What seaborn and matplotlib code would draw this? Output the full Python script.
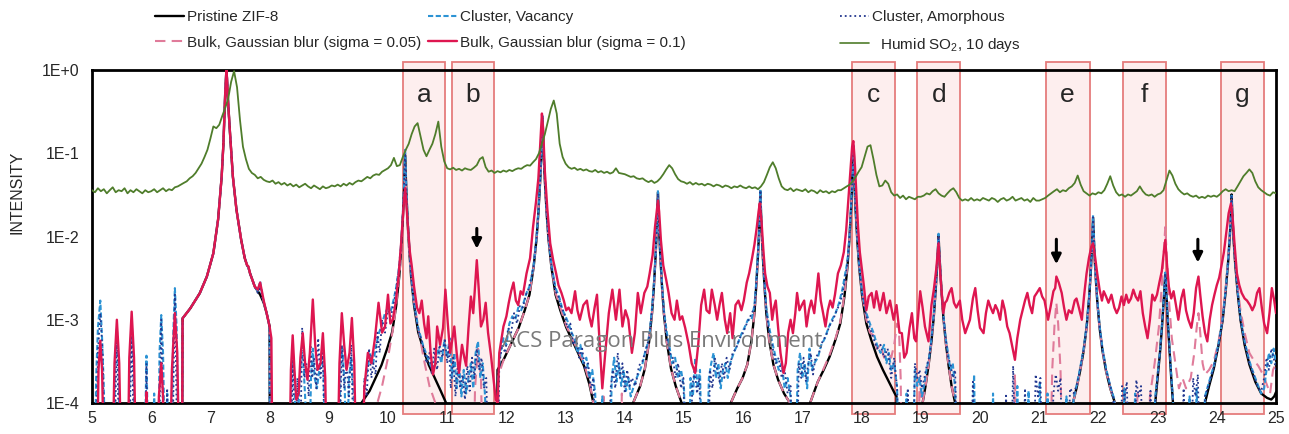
import numpy as np
import matplotlib
matplotlib.use("Agg")
import matplotlib.pyplot as plt
import seaborn as sns
from matplotlib.lines import Line2D
from matplotlib.patches import Rectangle
from matplotlib.ticker import MultipleLocator, LogLocator, NullFormatter, FixedLocator, FixedFormatter

sns.set_style("white")
plt.rcParams['font.family'] = ['Liberation Sans', 'DejaVu Sans']
plt.rcParams['mathtext.fontset'] = 'custom'
plt.rcParams['mathtext.rm'] = 'Liberation Sans'

# ---------------- data (2-theta, intensity) ----------------
pristine = [
(5.0,1e-5),(6.52,1e-5),
(6.53,1.04e-3),(6.66,1.37e-3),(6.82,2.08e-3),(6.94,3.3e-3),(7.05,6.3e-3),(7.13,1.6e-2),(7.19,5.2e-2),(7.22,0.13),(7.25,0.52),(7.27,1.0),(7.28,0.8),(7.30,0.4),(7.33,0.18),(7.38,0.052),(7.44,0.021),(7.52,9.1e-3),(7.58,5.5e-3),(7.62,4.5e-3),(7.64,4.3e-3),(7.67,3.6e-3),(7.75,2.5e-3),(7.84,2.0e-3),(7.90,1.6e-3),(7.95,1.2e-3),(8.00,8.3e-4),(8.005,1e-5),
(9.52,1e-5),(9.53,9.5e-5),(9.69,1.4e-4),(9.79,2.0e-4),(9.89,2.85e-4),(9.99,4.6e-4),(10.07,7.1e-4),(10.14,1.5e-3),(10.19,3.3e-3),(10.22,6.7e-3),(10.25,1.6e-2),(10.27,3.3e-2),(10.28,5.7e-2),(10.29,9.5e-2),(10.30,5.7e-2),(10.31,3.3e-2),(10.33,1.6e-2),(10.36,6.7e-3),(10.39,3.3e-3),(10.44,1.5e-3),(10.51,7.1e-4),(10.59,4.6e-4),(10.69,2.85e-4),(10.79,2.0e-4),(10.89,1.4e-4),(11.01,9e-5),(11.02,1e-5),
(11.84,1e-5),(11.85,2.5e-4),(11.96,3.4e-4),(12.11,5.7e-4),(12.21,8.1e-4),(12.31,1.3e-3),(12.39,2.0e-3),(12.46,4.3e-3),(12.51,9.5e-3),(12.54,1.9e-2),(12.57,4.6e-2),(12.59,9.5e-2),(12.60,0.16),(12.61,0.27),(12.62,0.16),(12.63,9.5e-2),(12.65,4.6e-2),(12.68,1.9e-2),(12.71,9.5e-3),(12.76,4.3e-3),(12.83,2.0e-3),(12.91,1.3e-3),(13.01,8.1e-4),(13.11,5.7e-4),(13.21,4.0e-4),(13.31,2.8e-4),(13.40,1.7e-4),(13.47,1.0e-4),(13.50,1e-5),
(14.13,1e-5),(14.14,1.0e-4),(14.26,1.6e-4),(14.34,2.6e-4),(14.41,5.4e-4),(14.46,1.2e-3),(14.49,2.4e-3),(14.52,5.8e-3),(14.54,1.2e-2),(14.55,2.0e-2),(14.56,3.4e-2),(14.57,2.0e-2),(14.58,1.2e-2),(14.60,5.8e-3),(14.63,2.4e-3),(14.66,1.2e-3),(14.71,5.4e-4),(14.78,2.6e-4),(14.86,1.6e-4),(14.96,1.0e-4),(15.00,1e-5),
(15.78,1e-5),(15.79,1.0e-4),(15.90,1.5e-4),(15.99,2.0e-4),(16.07,2.9e-4),(16.14,5.6e-4),(16.19,1.2e-3),(16.22,2.5e-3),(16.25,6e-3),(16.27,1.2e-2),(16.28,2.1e-2),(16.29,3.5e-2),(16.30,2.1e-2),(16.31,1.2e-2),(16.33,6e-3),(16.36,2.5e-3),(16.39,1.2e-3),(16.44,5.6e-4),(16.51,2.9e-4),(16.59,1.9e-4),(16.69,1.3e-4),(16.79,1.0e-4),(16.80,1e-5),
(17.12,1e-5),(17.13,1.0e-4),(17.26,1.8e-4),(17.36,2.5e-4),(17.46,3.6e-4),(17.56,5.8e-4),(17.64,9e-4),(17.71,1.9e-3),(17.76,4.2e-3),(17.79,8.4e-3),(17.82,2.0e-2),(17.84,4.2e-2),(17.85,7.2e-2),(17.86,0.12),(17.87,7.2e-2),(17.88,4.2e-2),(17.90,2.0e-2),(17.93,8.4e-3),(17.96,4.2e-3),(18.01,1.9e-3),(18.08,9e-4),(18.16,5.8e-4),(18.26,3.6e-4),(18.36,2.5e-4),(18.46,1.8e-4),(18.56,1.3e-4),(18.59,1.2e-4),(18.60,1e-5),
(19.02,1e-5),(19.03,1.0e-4),(19.08,1.6e-4),(19.13,2.8e-4),(19.18,5.5e-4),(19.22,1.1e-3),(19.25,2.2e-3),(19.27,3.8e-3),(19.29,7e-3),(19.30,1.05e-2),(19.31,7e-3),(19.33,3.8e-3),(19.35,2.2e-3),(19.38,1.1e-3),(19.42,5.5e-4),(19.47,2.8e-4),(19.52,1.6e-4),(19.58,1.0e-4),(19.59,1e-5),
(21.56,1e-5),(21.57,1.0e-4),(21.63,1.5e-4),(21.69,2.4e-4),(21.75,4.2e-4),(21.80,8e-4),(21.84,1.7e-3),(21.87,3.6e-3),(21.89,7e-3),(21.90,1.1e-2),(21.91,1.7e-2),(21.92,1.1e-2),(21.93,7e-3),(21.95,3.6e-3),(21.98,1.7e-3),(22.02,8e-4),(22.07,4.2e-4),(22.13,2.4e-4),(22.20,1.5e-4),(22.28,1.0e-4),(22.29,1e-5),
(22.95,1e-5),(22.96,1.0e-4),(23.00,2.0e-4),(23.04,4e-4),(23.07,7.5e-4),(23.09,1.2e-3),(23.11,2.0e-3),(23.12,2.7e-3),(23.13,3.6e-3),(23.14,2.7e-3),(23.15,2.0e-3),(23.17,1.0e-3),(23.20,4.5e-4),(23.23,2.0e-4),(23.26,1.0e-4),(23.27,1e-5),
(23.79,1e-5),(23.80,1.0e-4),(23.87,1.6e-4),(23.95,2.6e-4),(24.03,5e-4),(24.10,1.0e-3),(24.15,2.2e-3),(24.19,4.8e-3),(24.22,1.0e-2),(24.24,2.0e-2),(24.25,3.2e-2),(24.26,2.0e-2),(24.28,1.0e-2),(24.31,4.8e-3),(24.35,2.2e-3),(24.40,1.0e-3),(24.47,5e-4),(24.55,2.9e-4),(24.65,1.8e-4),(24.75,1.3e-4),(24.85,1.15e-4),(24.92,1.1e-4),(24.97,1.2e-4),(25.0,1.35e-4)]

vacancy = [
(5.0,1e-5),(5.04,1e-5),(5.07,2e-4),(5.10,8e-4),(5.14,1.7e-3),(5.17,6e-4),(5.20,1.5e-4),(5.23,1e-5),
(5.36,1e-5),(5.39,2.5e-4),(5.42,8e-4),(5.45,2.5e-4),(5.48,1e-5),
(5.61,1e-5),(5.64,3e-4),(5.67,1.0e-3),(5.70,3e-4),(5.73,1e-5),
(5.88,1e-5),(5.92,3.7e-4),(5.96,1e-5),(6.02,1e-5),(6.05,1.3e-4),(6.08,1e-5),
(6.12,1e-5),(6.14,4e-4),(6.17,1.14e-3),(6.20,4e-4),(6.24,1e-5),(6.27,1.3e-4),(6.30,1e-5),
(6.34,1e-5),(6.37,6e-4),(6.40,2.4e-3),(6.43,8e-4),(6.47,1e-5),
(6.52,1e-5),(6.53,1.04e-3),(6.66,1.37e-3),(6.82,2.08e-3),(6.94,3.3e-3),(7.05,6.3e-3),(7.13,1.6e-2),(7.19,5.2e-2),(7.22,0.13),(7.25,0.52),(7.27,1.0),(7.28,0.8),(7.30,0.4),(7.33,0.18),(7.38,0.052),(7.44,0.021),(7.52,9.1e-3),(7.58,5.5e-3),(7.62,4.5e-3),(7.64,4.3e-3),(7.67,3.6e-3),(7.75,2.5e-3),(7.80,2.2e-3),(7.84,2.9e-3),(7.88,1.9e-3),(7.95,1.2e-3),(8.00,8.3e-4),(8.005,1e-5),
(8.34,1e-5),(8.37,2e-4),(8.39,4.5e-4),(8.42,2e-4),(8.45,1e-5),(8.50,1.5e-4),(8.54,4e-4),(8.57,3e-4),(8.60,1.2e-4),(8.66,1e-5),(8.70,2e-4),(8.73,4.5e-4),(8.76,2e-4),(8.80,1.5e-4),(8.84,2.5e-4),(8.88,3.5e-4),(8.91,2.5e-4),(8.95,1e-5),
(9.16,1e-5),(9.20,3e-4),(9.23,4.5e-4),(9.27,1.5e-4),(9.30,1e-5),(9.34,2e-4),(9.38,3.5e-4),(9.42,1.2e-4),(9.45,1e-5),
(9.55,1e-5),(9.60,1.5e-4),(9.65,2.5e-4),(9.70,4e-4),(9.75,3e-4),(9.80,5e-4),(9.85,7e-4),(9.90,9e-4),(9.95,1.2e-3),(10.0,1.4e-3),(10.05,1.3e-3),(10.10,1.8e-3),(10.14,2.5e-3),(10.19,4.5e-3),(10.22,8e-3),(10.25,1.9e-2),(10.27,4e-2),(10.28,7e-2),(10.29,0.11),(10.30,6.5e-2),(10.31,3.8e-2),(10.33,1.8e-2),(10.36,7.5e-3),(10.39,3.6e-3),(10.44,1.6e-3),(10.51,8e-4),(10.59,5e-4),(10.69,3.2e-4),(10.75,2.5e-4),(10.80,3.5e-4),(10.85,4.5e-4),(10.90,3e-4),(10.95,5.5e-4),(11.0,3.5e-4),(11.04,6e-4),(11.08,2e-4),(11.12,4e-4),(11.16,1.5e-4),(11.20,3e-4),(11.24,1.2e-4),(11.28,2.5e-4),(11.32,1.3e-4),(11.36,2e-4),(11.40,3e-4),(11.44,1.5e-4),(11.48,4e-4),(11.52,5.5e-4),(11.56,2e-4),(11.60,3e-4),(11.64,1.2e-4),(11.68,1e-5),
(11.84,1e-5),(11.86,2e-4),(11.90,4e-4),(11.95,6e-4),(12.0,5e-4),(12.05,9e-4),(12.10,1.1e-3),(12.15,1.0e-3),(12.20,1.4e-3),(12.25,1.3e-3),(12.30,1.7e-3),(12.35,2.2e-3),(12.40,2.6e-3),(12.46,4.5e-3),(12.51,1e-2),(12.54,2e-2),(12.57,5e-2),(12.59,0.1),(12.60,0.17),(12.61,0.28),(12.62,0.17),(12.63,0.1),(12.65,5e-2),(12.68,2e-2),(12.71,1e-2),(12.76,4.6e-3),(12.83,2.4e-3),(12.90,1.8e-3),(12.95,1.3e-3),(13.0,1.1e-3),(13.05,9e-4),(13.10,7e-4),(13.15,6e-4),(13.20,4e-4),(13.25,5e-4),(13.30,3e-4),(13.35,3.5e-4),(13.40,2e-4),(13.45,2.5e-4),(13.50,1.3e-4),(13.54,1e-5),
(13.58,1e-5),(13.62,1.2e-4),(13.66,1e-5),(13.74,1e-5),(13.78,2e-4),(13.82,3.5e-4),(13.86,1.8e-4),(13.90,3e-4),(13.94,1.6e-4),(13.98,2.5e-4),(14.02,1.4e-4),(14.06,2e-4),(14.10,1.2e-4),(14.14,1.5e-4),(14.20,2e-4),(14.26,2.5e-4),(14.30,3e-4),(14.34,4e-4),(14.38,5e-4),(14.42,7e-4),(14.46,1.4e-3),(14.49,2.6e-3),(14.52,6.2e-3),(14.54,1.3e-2),(14.55,2.2e-2),(14.56,3.6e-2),(14.57,2.2e-2),(14.58,1.3e-2),(14.60,6.2e-3),(14.63,2.6e-3),(14.66,1.3e-3),(14.71,7e-4),(14.76,4.5e-4),(14.80,3e-4),(14.85,3.5e-4),(14.90,2e-4),(14.95,2.5e-4),(15.0,1.5e-4),(15.04,1e-5),
(15.08,1e-5),(15.11,2e-4),(15.15,1.2e-4),(15.19,3.5e-4),(15.23,1.5e-4),(15.27,2.5e-4),(15.31,1e-5),(15.38,1e-5),(15.42,2e-4),(15.46,3e-4),(15.50,4e-4),(15.54,2e-4),(15.58,3e-4),(15.62,1.5e-4),(15.66,2.5e-4),(15.70,3e-4),(15.74,2e-4),(15.78,3e-4),(15.84,4e-4),(15.90,5e-4),(15.96,6.5e-4),(16.02,8e-4),(16.08,1.0e-3),(16.14,1.0e-3),(16.19,1.5e-3),(16.22,2.8e-3),(16.25,6.5e-3),(16.27,1.3e-2),(16.28,2.2e-2),(16.29,3.7e-2),(16.30,2.2e-2),(16.31,1.3e-2),(16.33,6.5e-3),(16.36,2.8e-3),(16.39,1.4e-3),(16.44,8e-4),(16.50,5e-4),(16.55,3.5e-4),(16.60,2.5e-4),(16.65,3e-4),(16.70,1.5e-4),(16.75,2e-4),(16.80,1.2e-4),(16.84,1e-5),
(16.88,1e-5),(16.92,2.5e-4),(16.96,4e-4),(17.0,2e-4),(17.04,3e-4),(17.08,1.5e-4),(17.12,4.5e-4),(17.16,2.5e-4),(17.20,3e-4),(17.26,3.5e-4),(17.32,5e-4),(17.38,6e-4),(17.44,8e-4),(17.50,1.0e-3),(17.56,1.2e-3),(17.62,1.6e-3),(17.68,2.4e-3),(17.72,3.5e-3),(17.76,5e-3),(17.79,9e-3),(17.82,2.2e-2),(17.84,4.5e-2),(17.85,7.5e-2),(17.86,0.125),(17.87,7.5e-2),(17.88,4.5e-2),(17.90,2.2e-2),(17.93,9e-3),(17.96,4.5e-3),(18.01,2.1e-3),(18.08,1.2e-3),(18.14,9e-4),(18.20,7e-4),(18.26,5e-4),(18.32,4e-4),(18.38,5e-4),(18.42,3e-4),(18.46,4e-4),(18.50,2.5e-4),(18.55,3e-4),(18.60,1.5e-4),(18.63,1e-5),
(18.72,1e-5),(18.76,1.3e-4),(18.80,1e-5),(18.86,1e-5),(18.90,2.5e-4),(18.94,1.6e-4),(18.98,2e-4),(19.02,1.2e-4),(19.06,1.7e-4),(19.10,2.6e-4),(19.14,3.5e-4),(19.18,6e-4),(19.22,1.2e-3),(19.25,2.3e-3),(19.27,4e-3),(19.29,7.5e-3),(19.30,1.08e-2),(19.31,7.5e-3),(19.33,4e-3),(19.35,2.3e-3),(19.38,1.2e-3),(19.42,6e-4),(19.46,4e-4),(19.50,2.5e-4),(19.54,3e-4),(19.58,1.5e-4),(19.62,1e-5),
(19.86,1e-5),(19.90,2.2e-4),(19.93,1e-5),(20.20,1e-5),(20.22,1.3e-4),(20.25,1e-5),(20.60,1e-5),(20.63,1.6e-4),(20.66,1e-5),(20.78,1e-5),(20.82,1.4e-4),(20.86,1e-5),(20.98,1e-5),(21.01,1.8e-4),(21.04,1e-5),(21.10,1e-5),(21.14,1.3e-4),(21.18,1e-5),(21.42,1e-5),(21.46,1.2e-4),(21.50,1e-5),
(21.56,1e-5),(21.58,1.1e-4),(21.63,1.6e-4),(21.69,2.6e-4),(21.75,4.5e-4),(21.80,8.5e-4),(21.84,1.8e-3),(21.87,3.8e-3),(21.89,7.5e-3),(21.90,1.2e-2),(21.91,1.8e-2),(21.92,1.2e-2),(21.93,7.5e-3),(21.95,3.8e-3),(21.98,1.8e-3),(22.02,8.5e-4),(22.07,4.5e-4),(22.13,2.6e-4),(22.20,1.6e-4),(22.27,1.1e-4),(22.30,1e-5),
(22.40,1e-5),(22.44,1.5e-4),(22.48,1e-5),(22.58,1e-5),(22.62,1.3e-4),(22.66,1e-5),
(22.90,1e-5),(22.96,1.2e-4),(23.00,2.2e-4),(23.04,4.2e-4),(23.07,8e-4),(23.09,1.3e-3),(23.11,2.1e-3),(23.13,3.7e-3),(23.15,2.1e-3),(23.17,1.1e-3),(23.20,5e-4),(23.23,2.2e-4),(23.26,1.1e-4),(23.30,1e-5),
(23.50,1e-5),(23.54,1.2e-4),(23.58,1e-5),(23.62,1e-5),(23.66,1.5e-4),(23.70,1e-5),
(23.76,1e-5),(23.80,1.2e-4),(23.87,1.8e-4),(23.95,2.8e-4),(24.03,5.2e-4),(24.10,1.05e-3),(24.15,2.3e-3),(24.19,5e-3),(24.22,1.05e-2),(24.24,2.1e-2),(24.25,3.1e-2),(24.26,2.1e-2),(24.28,1.05e-2),(24.31,5e-3),(24.35,2.3e-3),(24.40,1.05e-3),(24.47,5.5e-4),(24.55,3.2e-4),(24.60,2.5e-4),(24.65,2e-4),(24.70,1.6e-4),(24.75,1.3e-4),(24.80,1.5e-4),(24.84,2.5e-4),(24.88,4e-4),(24.92,3e-4),(24.96,4.5e-4),(25.0,3e-4)]

amorphous = [
(5.0,1e-5),(5.06,1e-5),(5.10,4e-4),(5.14,1.2e-3),(5.18,4e-4),(5.22,1e-5),
(5.37,1e-5),(5.42,7e-4),(5.47,1e-5),(5.62,1e-5),(5.67,9e-4),(5.72,1e-5),
(5.89,1e-5),(5.92,3e-4),(5.95,1e-5),(6.12,1e-5),(6.17,1.0e-3),(6.22,1e-5),(6.27,1.5e-4),(6.30,1e-5),
(6.35,1e-5),(6.40,2.0e-3),(6.45,1e-5),
(6.52,1e-5),(6.53,1.04e-3),(6.66,1.37e-3),(6.82,2.08e-3),(6.94,3.3e-3),(7.05,6.3e-3),(7.13,1.6e-2),(7.19,5.2e-2),(7.22,0.13),(7.25,0.52),(7.27,1.0),(7.28,0.8),(7.30,0.4),(7.33,0.18),(7.38,0.052),(7.44,0.021),(7.52,9.1e-3),(7.58,5.5e-3),(7.62,4.5e-3),(7.64,4.3e-3),(7.67,3.6e-3),(7.75,2.5e-3),(7.80,2.1e-3),(7.84,2.5e-3),(7.88,1.8e-3),(7.95,1.2e-3),(8.00,8.3e-4),(8.005,1e-5),
(8.36,1e-5),(8.39,5e-4),(8.43,1e-5),(8.47,2e-4),(8.51,1e-5),(8.55,8e-4),(8.59,2e-4),(8.62,3e-4),(8.66,1.2e-4),(8.69,5e-4),(8.72,2e-4),(8.75,3.5e-4),(8.79,1.5e-4),(8.82,6e-4),(8.86,2e-4),(8.90,4e-4),(8.94,1e-5),
(9.17,1e-5),(9.22,5e-4),(9.26,1.5e-4),(9.30,3e-4),(9.34,1.2e-4),(9.38,5e-4),(9.43,1e-5),
(9.56,1e-5),(9.60,2e-4),(9.64,1.2e-4),(9.68,4.5e-4),(9.72,2e-4),(9.75,3e-4),(9.79,2.2e-4),(9.82,7e-4),(9.86,4e-4),(9.90,1e-3),(9.95,7e-4),(10.0,1.3e-3),(10.05,1.1e-3),(10.10,1.6e-3),(10.14,2.4e-3),(10.19,4.2e-3),(10.22,7.5e-3),(10.25,1.8e-2),(10.27,3.7e-2),(10.28,6.3e-2),(10.29,0.10),(10.30,6.3e-2),(10.31,3.6e-2),(10.33,1.7e-2),(10.36,7e-3),(10.39,3.4e-3),(10.44,1.5e-3),(10.51,7.5e-4),(10.59,5e-4),(10.65,3e-4),(10.70,4e-4),(10.74,2.2e-4),(10.78,4.5e-4),(10.83,2.5e-4),(10.87,5e-4),(10.92,3.5e-4),(10.96,6e-4),(11.0,3e-4),(11.03,5e-4),(11.06,1.5e-4),(11.10,3.5e-4),(11.14,1.2e-4),(11.18,3e-4),(11.22,1.5e-4),(11.26,2.2e-4),(11.30,1.1e-4),(11.34,2.8e-4),(11.38,1.4e-4),(11.42,3.5e-4),(11.46,2e-4),(11.50,4.5e-4),(11.54,2.5e-4),(11.58,3.5e-4),(11.62,1.5e-4),(11.66,2e-4),(11.70,1e-5),
(11.85,1e-5),(11.88,3e-4),(11.93,5e-4),(11.98,4e-4),(12.03,8e-4),(12.08,7e-4),(12.13,1.2e-3),(12.18,9e-4),(12.23,1.5e-3),(12.28,1.4e-3),(12.33,2e-3),(12.38,2.4e-3),(12.46,4.4e-3),(12.51,9.5e-3),(12.54,1.9e-2),(12.57,4.6e-2),(12.59,9.5e-2),(12.60,0.16),(12.61,0.27),(12.62,0.16),(12.63,9.5e-2),(12.65,4.6e-2),(12.68,1.9e-2),(12.71,9.5e-3),(12.76,4.5e-3),(12.83,2.2e-3),(12.88,1.9e-3),(12.93,1.4e-3),(12.98,1.2e-3),(13.03,8e-4),(13.08,9e-4),(13.13,5e-4),(13.18,6e-4),(13.23,3.5e-4),(13.28,4.5e-4),(13.33,2.5e-4),(13.38,3e-4),(13.43,1.5e-4),(13.47,2e-4),(13.52,1e-5),
(13.72,1e-5),(13.76,1.5e-4),(13.80,2.5e-4),(13.84,1.5e-4),(13.88,4e-4),(13.92,2e-4),(13.96,3e-4),(14.0,1.3e-4),(14.04,2.5e-4),(14.08,1.6e-4),(14.12,2e-4),(14.18,1.6e-4),(14.24,2.8e-4),(14.30,3.2e-4),(14.36,4.5e-4),(14.41,6e-4),(14.46,1.3e-3),(14.49,2.4e-3),(14.52,5.8e-3),(14.54,1.2e-2),(14.55,2.0e-2),(14.56,3.3e-2),(14.57,2.0e-2),(14.58,1.2e-2),(14.60,5.8e-3),(14.63,2.4e-3),(14.66,1.25e-3),(14.71,6e-4),(14.76,4e-4),(14.81,3.5e-4),(14.86,2e-4),(14.90,3e-4),(14.95,1.5e-4),(14.99,2e-4),(15.03,1e-5),
(15.10,1e-5),(15.14,1.6e-4),(15.18,2.5e-4),(15.22,1.3e-4),(15.26,2e-4),(15.30,1e-5),(15.40,1e-5),(15.44,2.5e-4),(15.48,1.5e-4),(15.52,3.5e-4),(15.56,2.5e-4),(15.60,1.8e-4),(15.64,3e-4),(15.68,2e-4),(15.72,3.5e-4),(15.77,2.5e-4),(15.82,4e-4),(15.88,4.5e-4),(15.94,6e-4),(16.0,7e-4),(16.06,9e-4),(16.12,1.1e-3),(16.19,1.4e-3),(16.22,2.6e-3),(16.25,6.2e-3),(16.27,1.25e-2),(16.28,2.1e-2),(16.29,3.6e-2),(16.30,2.1e-2),(16.31,1.25e-2),(16.33,6.2e-3),(16.36,2.6e-3),(16.39,1.3e-3),(16.44,7e-4),(16.50,4.5e-4),(16.55,3e-4),(16.60,3.5e-4),(16.65,2e-4),(16.70,2.5e-4),(16.75,1.3e-4),(16.80,1.6e-4),(16.84,1e-5),
(16.90,1e-5),(16.94,3e-4),(16.98,2e-4),(17.02,3.5e-4),(17.06,1.8e-4),(17.10,3e-4),(17.14,4e-4),(17.18,2.2e-4),(17.22,3.5e-4),(17.28,4e-4),(17.34,5.5e-4),(17.40,6.5e-4),(17.46,8.5e-4),(17.52,1.0e-3),(17.58,1.3e-3),(17.64,1.6e-3),(17.70,2.5e-3),(17.76,4.8e-3),(17.79,8.8e-3),(17.82,2.1e-2),(17.84,4.4e-2),(17.85,7.4e-2),(17.86,0.122),(17.87,7.4e-2),(17.88,4.4e-2),(17.90,2.1e-2),(17.93,8.8e-3),(17.96,4.4e-3),(18.01,2e-3),(18.08,1.1e-3),(18.14,8e-4),(18.20,6e-4),(18.26,4.5e-4),(18.32,5e-4),(18.38,3.5e-4),(18.44,4.5e-4),(18.50,2e-4),(18.55,3.5e-4),(18.60,1.5e-4),(18.64,1e-5),
(18.74,1e-5),(18.78,1.5e-4),(18.82,1e-5),(18.86,1e-5),(18.90,3e-4),(18.94,2e-4),(18.98,2.5e-4),(19.02,1.5e-4),(19.06,2e-4),(19.10,2.8e-4),(19.14,3.5e-4),(19.18,5.5e-4),(19.22,1.1e-3),(19.25,2.2e-3),(19.27,3.9e-3),(19.29,7.2e-3),(19.30,1.02e-2),(19.31,7.2e-3),(19.33,3.9e-3),(19.35,2.2e-3),(19.38,1.1e-3),(19.42,6e-4),(19.46,3.5e-4),(19.50,3e-4),(19.54,2e-4),(19.58,2.5e-4),(19.62,1e-5),
(19.84,1e-5),(19.88,1.8e-4),(19.92,1e-5),(20.40,1e-5),(20.44,1.3e-4),(20.48,1e-5),(20.52,1e-5),(20.56,2.8e-4),(20.60,1e-5),(20.72,1e-5),(20.76,1.5e-4),(20.80,1e-5),(20.90,1e-5),(20.94,2.2e-4),(20.98,1.2e-4),(21.02,2e-4),(21.06,1e-5),(21.20,1e-5),(21.24,1.3e-4),(21.28,2.2e-4),(21.32,1.4e-4),(21.36,2e-4),(21.40,1e-5),
(21.48,1e-5),(21.52,1.5e-4),(21.58,1.3e-4),(21.63,1.6e-4),(21.69,2.5e-4),(21.75,4.3e-4),(21.80,8.2e-4),(21.84,1.7e-3),(21.87,3.7e-3),(21.89,7.2e-3),(21.90,1.1e-2),(21.91,1.7e-2),(21.92,1.1e-2),(21.93,7.2e-3),(21.95,3.7e-3),(21.98,1.7e-3),(22.02,8.2e-4),(22.07,4.3e-4),(22.13,2.5e-4),(22.20,1.6e-4),(22.25,1.2e-4),(22.30,1e-5),
(22.36,1e-5),(22.40,1.6e-4),(22.44,1.1e-4),(22.48,1.8e-4),(22.52,1e-5),(22.60,1e-5),(22.64,1.9e-4),(22.68,1.2e-4),(22.72,1.6e-4),(22.76,1e-5),(22.84,1e-5),(22.88,1.4e-4),(22.92,1e-5),
(22.95,1e-5),(22.96,1.0e-4),(23.00,2.0e-4),(23.04,4e-4),(23.07,7.5e-4),(23.09,1.2e-3),(23.11,2.0e-3),(23.13,3.6e-3),(23.15,2.0e-3),(23.17,1.0e-3),(23.20,4.5e-4),(23.23,2.0e-4),(23.26,1.1e-4),(23.30,1e-5),
(23.40,1e-5),(23.44,1.5e-4),(23.48,1e-5),(23.56,1e-5),(23.60,2e-4),(23.64,1.2e-4),(23.68,2.2e-4),(23.72,1e-5),
(23.78,1e-5),(23.80,1.2e-4),(23.87,1.7e-4),(23.95,2.7e-4),(24.03,5e-4),(24.10,1.0e-3),(24.15,2.2e-3),(24.19,4.8e-3),(24.22,1.0e-2),(24.24,2.0e-2),(24.25,3.0e-2),(24.26,2.0e-2),(24.28,1.0e-2),(24.31,4.8e-3),(24.35,2.2e-3),(24.40,1.0e-3),(24.47,5.2e-4),(24.55,3e-4),(24.60,2.4e-4),(24.65,1.9e-4),(24.70,1.5e-4),(24.75,1.4e-4),(24.80,2e-4),(24.84,3.5e-4),(24.88,2.5e-4),(24.92,4.5e-4),(24.96,3.5e-4),(25.0,2.5e-4)]

bulk_005 = [
(5.0,1e-5),(6.52,1e-5),
(6.53,1.04e-3),(6.66,1.37e-3),(6.82,2.08e-3),(6.94,3.3e-3),(7.05,6.3e-3),(7.13,1.6e-2),(7.19,5.2e-2),(7.22,0.13),(7.25,0.52),(7.27,1.0),(7.28,0.8),(7.30,0.4),(7.33,0.18),(7.38,0.052),(7.44,0.021),(7.52,9.1e-3),(7.58,5.5e-3),(7.62,4.5e-3),(7.64,4.3e-3),(7.67,3.6e-3),(7.75,2.5e-3),(7.80,2.2e-3),(7.84,2.6e-3),(7.88,1.9e-3),(7.95,1.2e-3),(8.00,8.3e-4),(8.02,1e-5),
(9.81,1e-5),(9.82,1.0e-4),(9.90,1.6e-4),(10.00,3.5e-4),(10.10,9e-4),(10.15,1.8e-3),(10.20,4e-3),(10.24,1e-2),(10.27,3e-2),(10.29,7e-2),(10.31,3e-2),(10.34,1e-2),(10.38,4e-3),(10.43,1.8e-3),(10.50,9e-4),(10.60,3.5e-4),(10.70,1.6e-4),(10.80,1.0e-4),(10.81,1e-5),
(11.44,1e-5),(11.47,1.5e-4),(11.52,4.5e-4),(11.57,2e-4),(11.61,1e-5),
(11.86,1e-5),(11.87,2.2e-4),(11.96,3.4e-4),(12.11,5.7e-4),(12.21,8.1e-4),(12.31,1.3e-3),(12.39,2.0e-3),(12.46,4.3e-3),(12.51,9.5e-3),(12.54,1.9e-2),(12.57,4.6e-2),(12.59,9.5e-2),(12.60,0.16),(12.61,0.28),(12.62,0.16),(12.63,9.5e-2),(12.65,4.6e-2),(12.68,1.9e-2),(12.71,9.5e-3),(12.76,4.3e-3),(12.83,2.1e-3),(12.91,1.4e-3),(13.01,8.5e-4),(13.11,6e-4),(13.21,4.2e-4),(13.31,3e-4),(13.40,1.8e-4),(13.47,1.0e-4),(13.50,1e-5),
(13.62,1e-5),(13.64,1.2e-4),(13.66,1e-5),(13.92,1e-5),(13.95,1.3e-4),(13.98,1e-5),
(14.13,1e-5),(14.14,1.0e-4),(14.26,1.6e-4),(14.34,2.6e-4),(14.41,5.4e-4),(14.46,1.2e-3),(14.49,2.3e-3),(14.52,5.5e-3),(14.54,1.1e-2),(14.55,1.9e-2),(14.56,3.0e-2),(14.57,1.9e-2),(14.58,1.1e-2),(14.60,5.5e-3),(14.63,2.3e-3),(14.66,1.2e-3),(14.71,5.4e-4),(14.78,2.6e-4),(14.86,1.6e-4),(14.96,1.0e-4),(15.00,1e-5),
(15.78,1e-5),(15.79,1.0e-4),(15.90,1.5e-4),(15.99,2.0e-4),(16.07,2.9e-4),(16.14,5.6e-4),(16.19,1.2e-3),(16.22,2.4e-3),(16.25,5.6e-3),(16.27,1.1e-2),(16.28,1.9e-2),(16.29,3.2e-2),(16.30,1.9e-2),(16.31,1.1e-2),(16.33,5.6e-3),(16.36,2.4e-3),(16.39,1.2e-3),(16.44,5.6e-4),(16.51,2.9e-4),(16.59,1.9e-4),(16.69,1.3e-4),(16.79,1.0e-4),(16.80,1e-5),
(17.12,1e-5),(17.13,1.0e-4),(17.26,1.8e-4),(17.36,2.6e-4),(17.46,3.8e-4),(17.56,6e-4),(17.64,9.5e-4),(17.71,2.0e-3),(17.76,4.4e-3),(17.79,8.8e-3),(17.82,2.1e-2),(17.84,4.5e-2),(17.85,7.8e-2),(17.86,0.13),(17.87,7.8e-2),(17.88,4.5e-2),(17.90,2.1e-2),(17.93,8.8e-3),(17.96,4.4e-3),(18.01,2e-3),(18.08,1e-3),(18.14,7e-4),(18.20,6.5e-4),(18.26,4.5e-4),(18.32,5e-4),(18.38,3.5e-4),(18.44,4e-4),(18.50,3.5e-4),(18.55,5e-4),(18.60,9e-4),(18.63,8e-4),(18.66,2e-4),(18.68,1e-5),
(18.95,1e-5),(18.98,2e-4),(19.01,1.2e-4),(19.03,1.0e-4),(19.08,1.6e-4),(19.13,2.8e-4),(19.18,5.5e-4),(19.22,1.1e-3),(19.25,2.2e-3),(19.27,3.7e-3),(19.29,6.8e-3),(19.30,1.0e-2),(19.31,6.8e-3),(19.33,3.7e-3),(19.35,2.2e-3),(19.38,1.1e-3),(19.42,5.5e-4),(19.47,2.8e-4),(19.52,1.6e-4),(19.58,1.0e-4),(19.59,1e-5),
(20.55,1e-5),(20.59,2.2e-4),(20.63,1e-5),
(21.18,1e-5),(21.22,2.5e-4),(21.26,9e-4),(21.29,1.6e-3),(21.32,9e-4),(21.36,2.5e-4),(21.40,1e-5),
(21.56,1e-5),(21.57,1.0e-4),(21.63,1.5e-4),(21.69,2.4e-4),(21.75,4.2e-4),(21.80,7.8e-4),(21.84,1.6e-3),(21.87,3.4e-3),(21.89,6.6e-3),(21.90,1.0e-2),(21.91,1.6e-2),(21.92,1.0e-2),(21.93,6.6e-3),(21.95,3.4e-3),(21.98,1.6e-3),(22.02,7.8e-4),(22.07,4.2e-4),(22.13,2.4e-4),(22.20,1.5e-4),(22.28,1.0e-4),(22.29,1e-5),
(22.40,1e-5),(22.44,1.5e-4),(22.48,1e-5),(22.62,1e-5),(22.66,1.3e-4),(22.70,1e-5),
(22.84,1e-5),(22.87,1.2e-4),(22.95,3e-4),(23.02,8e-4),(23.07,2.5e-3),(23.10,6e-3),(23.13,1.3e-2),(23.16,5e-3),(23.19,1.8e-3),(23.24,6e-4),(23.30,3e-4),(23.36,1.5e-4),(23.42,2e-4),(23.48,1.5e-4),(23.56,2e-4),(23.62,4e-4),(23.66,8e-4),(23.69,1.2e-3),(23.72,7e-4),(23.76,3e-4),(23.80,2.2e-4),(23.87,2.5e-4),(23.95,3.2e-4),(24.03,5.5e-4),(24.10,1.1e-3),(24.15,2.4e-3),(24.19,5.2e-3),(24.22,1.1e-2),(24.24,2.1e-2),(24.25,3.0e-2),(24.26,2.1e-2),(24.28,1.1e-2),(24.31,5.2e-3),(24.35,2.5e-3),(24.40,1.3e-3),(24.47,7e-4),(24.55,4e-4),(24.62,3.3e-4),(24.70,2.8e-4),(24.78,2.2e-4),(24.84,1.7e-4),(24.90,1.3e-4),(24.95,2.5e-4),(25.0,3e-4)]

bulk_01 = [
(5.0,1e-5),(5.08,1e-5),(5.11,2.5e-4),(5.14,5.6e-4),(5.17,2.5e-4),(5.21,1e-5),
(5.34,1e-5),(5.38,3e-4),(5.42,1.0e-3),(5.46,3e-4),(5.50,1e-5),
(5.60,1e-5),(5.63,3.5e-4),(5.67,1.25e-3),(5.71,3.5e-4),(5.75,1e-5),
(5.89,1e-5),(5.92,1.35e-4),(5.95,1e-5),
(6.10,1e-5),(6.13,1.2e-4),(6.17,3.0e-4),(6.20,1.2e-4),(6.23,1e-5),
(6.31,1e-5),(6.35,2.5e-4),(6.40,1.2e-3),(6.44,4e-4),(6.48,1e-5),
(6.52,1e-5),(6.53,1.04e-3),(6.66,1.37e-3),(6.82,2.08e-3),(6.94,3.3e-3),(7.05,6.3e-3),(7.13,1.6e-2),(7.19,5.2e-2),(7.22,0.13),(7.25,0.52),(7.27,1.0),(7.28,0.8),(7.30,0.4),(7.33,0.18),(7.38,0.052),(7.44,0.021),(7.52,9.1e-3),(7.58,5.5e-3),(7.62,4.5e-3),(7.64,4.4e-3),(7.67,3.6e-3),(7.75,2.5e-3),(7.80,2.3e-3),(7.84,2.8e-3),(7.87,2.2e-3),(7.90,1.7e-3),(7.95,1.2e-3),(8.00,8.3e-4),(8.03,6e-4),(8.05,1e-5),
(8.33,1e-5),(8.36,2.5e-4),(8.39,6.5e-4),(8.42,2.5e-4),(8.45,1.1e-4),(8.49,1.3e-4),(8.52,3.5e-4),(8.56,6.9e-4),(8.60,3e-4),(8.64,1.9e-4),(8.68,4e-4),(8.73,1.75e-3),(8.77,5e-4),(8.81,2.5e-4),(8.86,3e-4),(8.90,6.9e-4),(8.94,2e-4),(8.97,1e-5),
(9.14,1e-5),(9.18,3e-4),(9.22,1.2e-3),(9.26,5e-4),(9.30,2.5e-4),(9.35,4e-4),(9.39,1.05e-3),(9.43,3e-4),(9.47,1e-5),
(9.56,1e-5),(9.60,1.5e-4),(9.66,4e-4),(9.72,3e-4),(9.78,6e-4),(9.84,1.6e-3),(9.90,7e-4),(9.95,8.3e-4),(10.0,2.0e-3),(10.04,9e-4),(10.08,1.0e-3),(10.13,1.6e-3),(10.18,3.5e-3),(10.22,8e-3),(10.25,1.7e-2),(10.27,2.8e-2),(10.29,3.8e-2),(10.31,2.5e-2),(10.34,1.2e-2),(10.37,6.5e-3),(10.40,4.5e-3),(10.44,2.5e-3),(10.49,1.4e-3),(10.53,1.2e-3),(10.57,1.7e-3),(10.61,9e-4),(10.65,6e-4),(10.68,1.1e-3),(10.72,4e-4),(10.76,2.2e-4),(10.80,3e-4),(10.83,8.3e-4),(10.88,5e-4),(10.93,8e-4),(10.97,2.3e-3),(11.01,9e-4),(11.05,4e-4),(11.09,6e-4),(11.12,8.3e-4),(11.16,4e-4),(11.20,2.3e-4),(11.25,5e-4),(11.29,3.5e-4),(11.32,2.8e-4),(11.36,8e-4),(11.40,1.9e-3),(11.44,1.2e-3),(11.47,2.5e-3),(11.50,5.2e-3),(11.53,2.5e-3),(11.57,8.3e-4),(11.61,1.0e-3),(11.65,1.6e-3),(11.69,7e-4),(11.74,3.7e-4),(11.78,2e-4),(11.82,1.1e-4),(11.85,1e-4),(11.88,4e-4),(11.95,8.3e-4),(12.00,1.1e-3),(12.04,1.6e-3),(12.08,2.2e-3),(12.12,2.8e-3),(12.16,1.7e-3),(12.20,1.5e-3),(12.24,2.2e-3),(12.28,2.0e-3),(12.34,3.6e-3),(12.40,5.5e-3),(12.45,1.3e-2),(12.50,2.6e-2),(12.54,5e-2),(12.57,0.12),(12.60,0.30),(12.62,0.2),(12.65,6e-2),(12.69,2.2e-2),(12.74,8.3e-3),(12.79,5.2e-3),(12.84,3.6e-3),(12.88,2.6e-3),(12.93,2.1e-3),(12.97,1.7e-3),(13.01,1.3e-3),(13.05,1.4e-3),(13.10,1.2e-3),(13.16,2.2e-3),(13.20,1.3e-3),(13.24,1.0e-3),(13.30,1.5e-3),(13.36,1.7e-3),(13.40,1.1e-3),(13.44,8.3e-4),(13.49,1.4e-3),(13.53,2.0e-3),(13.57,6e-4),(13.62,1.5e-4),(13.67,4e-4),(13.73,1.2e-3),(13.79,2.3e-3),(13.85,1.0e-3),(13.91,2.3e-3),(13.96,8.3e-4),(14.01,1.3e-3),(14.06,1.0e-3),(14.12,4e-4),(14.17,6.9e-4),(14.22,2.1e-3),(14.27,1.2e-3),(14.33,2.1e-3),(14.38,2.5e-3),(14.42,3.6e-3),(14.47,6e-3),(14.51,1.3e-2),(14.54,2.0e-2),(14.56,2.7e-2),(14.58,2.0e-2),(14.61,9e-3),(14.65,4.5e-3),(14.70,3e-3),(14.74,2.1e-3),(14.79,1.2e-3),(14.84,1.0e-3),(14.88,1.7e-3),(14.93,1.0e-3),(14.97,1.1e-3),(15.02,8e-4),(15.08,5e-4),(15.13,3e-4),(15.19,2.3e-4),(15.24,5e-4),(15.29,1.5e-3),(15.34,2.3e-3),(15.38,1.3e-3),(15.43,1.2e-3),(15.47,2.3e-3),(15.52,1.5e-3),(15.56,1.0e-3),(15.60,1.5e-3),(15.64,2.1e-3),(15.69,1.0e-3),(15.73,6.9e-4),(15.78,1.2e-3),(15.82,6e-4),(15.87,1.5e-3),(15.92,1.7e-3),(15.97,1.3e-3),(16.01,1.7e-3),(16.06,2.8e-3),(16.10,3.6e-3),(16.15,5.5e-3),(16.19,8e-3),(16.23,1.3e-2),(16.26,2.0e-2),(16.28,2.5e-2),(16.31,1.5e-2),(16.34,7e-3),(16.37,3.6e-3),(16.41,2.5e-3),(16.45,2.1e-3),(16.49,1.0e-3),(16.52,1.4e-3),(16.55,1.7e-3),(16.59,8e-4),(16.63,4e-4),(16.68,2.3e-4),(16.72,3e-4),(16.76,7e-4),(16.80,1.0e-3),(16.84,6.9e-4),(16.88,1.2e-3),(16.91,2.1e-3),(16.95,1.3e-3),(16.99,1.5e-3),(17.03,1.7e-3),(17.07,8.3e-4),(17.11,1.3e-3),(17.15,1.7e-3),(17.20,1.2e-3),(17.24,2.2e-3),(17.27,3.6e-3),(17.31,1.7e-3),(17.35,1.2e-3),(17.39,8.3e-4),(17.43,1.3e-3),(17.47,1.7e-3),(17.51,1.4e-3),(17.55,2.0e-3),(17.60,3.6e-3),(17.65,4.5e-3),(17.70,6.5e-3),(17.74,1.2e-2),(17.78,3e-2),(17.81,6e-2),(17.84,0.12),(17.86,0.14),(17.88,0.09),(17.91,3.5e-2),(17.94,1.3e-2),(17.97,6.5e-3),(18.00,4.3e-3),(18.04,2.5e-3),(18.08,1.3e-3),(18.12,1.9e-3),(18.17,2.1e-3),(18.21,1.4e-3),(18.25,2.2e-3),(18.31,1.3e-3),(18.37,2.1e-3),(18.42,1.2e-3),(18.48,1.7e-3),(18.54,1.0e-3),(18.59,1.5e-3),(18.64,7e-4),(18.68,6.9e-4),(18.72,3.5e-4),(18.76,4e-4),(18.81,8e-4),(18.85,1.2e-3),(18.89,6e-4),(18.92,5.5e-4),(18.96,1.2e-3),(18.99,2.2e-3),(19.03,1.4e-3),(19.07,8.3e-4),(19.13,5.5e-4),(19.18,1.5e-3),(19.22,2.3e-3),(19.26,4e-3),(19.30,8.3e-3),(19.33,3.5e-3),(19.38,1.2e-3),(19.41,1.6e-3),(19.44,1.7e-3),(19.48,2.1e-3),(19.52,2.4e-3),(19.56,1.6e-3),(19.60,1.4e-3),(19.66,1.7e-3),(19.70,1.0e-3),(19.75,6.9e-4),(19.79,8.3e-4),(19.83,1.0e-3),(19.88,1.8e-3),(19.92,2.4e-3),(19.96,1.3e-3),(20.00,8e-4),(20.06,6.9e-4),(20.10,1.2e-3),(20.14,1.7e-3),(20.18,1.4e-3),(20.22,1.2e-3),(20.26,1.5e-3),(20.30,1.3e-3),(20.34,1.0e-3),(20.38,1.7e-3),(20.42,1.3e-3),(20.46,8.3e-4),(20.50,6.9e-4),(20.54,5e-4),(20.59,3.3e-4),(20.63,6e-4),(20.68,1.0e-3),(20.72,1.3e-3),(20.76,1.7e-3),(20.80,2.1e-3),(20.84,1.5e-3),(20.88,1.2e-3),(20.92,1.9e-3),(20.96,2.1e-3),(21.01,2.4e-3),(21.05,1.9e-3),(21.09,1.7e-3),(21.15,1.0e-3),(21.19,1.4e-3),(21.24,2.2e-3),(21.27,2.4e-3),(21.29,3.3e-3),(21.33,2.8e-3),(21.38,2.1e-3),(21.42,1.4e-3),(21.46,1.0e-3),(21.50,1.3e-3),(21.55,1.2e-3),(21.60,1.7e-3),(21.63,1.8e-3),(21.67,1.4e-3),(21.72,1.0e-3),(21.76,2.0e-3),(21.80,3.6e-3),(21.84,5.5e-3),(21.88,7.5e-3),(21.91,8.3e-3),(21.94,6e-3),(21.98,3.6e-3),(22.02,2.3e-3),(22.06,1.7e-3),(22.09,2.2e-3),(22.13,1.9e-3),(22.17,1.6e-3),(22.22,2.0e-3),(22.27,1.4e-3),(22.31,1.2e-3),(22.35,1.4e-3),(22.39,1.9e-3),(22.43,1.5e-3),(22.47,2.0e-3),(22.51,1.6e-3),(22.55,1.8e-3),(22.59,2.3e-3),(22.63,1.9e-3),(22.67,1.7e-3),(22.71,2.2e-3),(22.75,1.2e-3),(22.79,8.3e-4),(22.83,6e-4),(22.87,1.0e-3),(22.91,2.0e-3),(22.95,1.7e-3),(22.99,2.0e-3),(23.03,2.8e-3),(23.07,3.8e-3),(23.10,6e-3),(23.13,9.1e-3),(23.16,4.5e-3),(23.19,2.5e-3),(23.23,1.8e-3),(23.27,2.2e-3),(23.31,1.5e-3),(23.35,1.0e-3),(23.40,1.8e-3),(23.44,2.3e-3),(23.48,1.3e-3),(23.52,1.0e-3),(23.57,8e-4),(23.61,1.2e-3),(23.65,2.4e-3),(23.69,3.3e-3),(23.72,2.0e-3),(23.76,1.1e-3),(23.80,7e-4),(23.84,5.5e-4),(23.88,1.0e-3),(23.92,1.5e-3),(23.96,2.0e-3),(24.00,2.6e-3),(24.04,3.2e-3),(24.08,4.5e-3),(24.12,6.5e-3),(24.16,1.1e-2),(24.20,1.9e-2),(24.24,2.5e-2),(24.27,1.6e-2),(24.30,8e-3),(24.34,3.6e-3),(24.38,2.6e-3),(24.42,2.1e-3),(24.47,1.8e-3),(24.51,1.7e-3),(24.56,1.5e-3),(24.60,1.3e-3),(24.64,1.5e-3),(24.68,2.1e-3),(24.72,2.4e-3),(24.76,1.4e-3),(24.80,9e-4),(24.85,6.9e-4),(24.89,1.2e-3),(24.93,2.4e-3),(24.97,1.7e-3),(25.0,1.2e-3)]

# Humid SO2, 10 days: read every 0.05 deg from 5.00 to 25.00
humid_so2 = [
0.036,0.034,0.038,0.035,0.037,0.033,0.036,0.039,0.034,0.036,0.035,0.038,0.033,0.036,0.034,0.037,0.035,0.033,0.036,0.034,
0.035,0.037,0.034,0.036,0.038,0.035,0.037,0.036,0.039,0.040,0.042,0.044,0.046,0.050,0.053,0.058,0.066,0.075,0.090,0.11,
0.15,0.21,0.20,0.22,0.28,0.35,0.45,0.72,0.97,0.62,0.25,0.12,0.085,0.065,0.058,0.055,0.050,0.052,0.048,0.046,
0.045,0.047,0.043,0.045,0.042,0.044,0.041,0.043,0.040,0.042,0.039,0.041,0.043,0.040,0.038,0.041,0.039,0.037,0.040,0.038,
0.039,0.041,0.040,0.042,0.040,0.043,0.041,0.044,0.042,0.045,0.047,0.046,0.049,0.052,0.050,0.054,0.056,0.055,0.060,0.063,
0.066,0.072,0.088,0.070,0.072,0.090,0.11,0.13,0.17,0.21,0.23,0.16,0.11,0.092,0.11,0.13,0.17,0.24,0.12,0.080,
0.066,0.064,0.067,0.063,0.065,0.062,0.066,0.064,0.063,0.067,0.072,0.085,0.090,0.068,0.060,0.062,0.058,0.061,0.059,0.062,
0.060,0.063,0.061,0.064,0.066,0.065,0.069,0.072,0.071,0.078,0.085,0.10,0.13,0.17,0.24,0.34,0.43,0.30,0.13,0.090,
0.075,0.068,0.065,0.067,0.063,0.065,0.062,0.064,0.061,0.060,0.063,0.059,0.061,0.058,0.060,0.057,0.059,0.066,0.058,0.057,
0.056,0.054,0.052,0.053,0.050,0.049,0.050,0.047,0.045,0.047,0.044,0.046,0.050,0.056,0.064,0.072,0.066,0.056,0.049,0.046,
0.045,0.043,0.045,0.042,0.044,0.042,0.043,0.041,0.043,0.042,0.040,0.042,0.041,0.039,0.041,0.040,0.038,0.040,0.039,0.041,
0.039,0.038,0.040,0.038,0.039,0.037,0.040,0.045,0.055,0.068,0.078,0.066,0.050,0.040,0.037,0.036,0.038,0.035,0.037,0.036,
0.035,0.037,0.034,0.036,0.035,0.033,0.036,0.034,0.035,0.033,0.035,0.034,0.036,0.036,0.038,0.040,0.042,0.046,0.052,0.060,
0.068,0.090,0.12,0.125,0.085,0.055,0.040,0.041,0.047,0.043,0.034,0.031,0.032,0.029,0.031,0.028,0.030,0.029,0.028,0.030,
0.030,0.031,0.033,0.032,0.035,0.037,0.033,0.031,0.030,0.033,0.036,0.038,0.034,0.029,0.027,0.028,0.027,0.029,0.027,0.028,
0.027,0.029,0.028,0.027,0.029,0.028,0.026,0.028,0.029,0.027,0.028,0.030,0.027,0.028,0.029,0.027,0.028,0.026,0.029,0.027,
0.027,0.028,0.029,0.031,0.033,0.035,0.037,0.034,0.036,0.035,0.038,0.040,0.044,0.054,0.042,0.035,0.033,0.031,0.033,0.032,
0.034,0.033,0.036,0.043,0.053,0.041,0.034,0.031,0.032,0.030,0.032,0.031,0.033,0.035,0.040,0.035,0.032,0.031,0.032,0.030,
0.032,0.033,0.036,0.047,0.062,0.054,0.043,0.037,0.034,0.032,0.033,0.031,0.030,0.031,0.029,0.030,0.029,0.031,0.030,0.031,
0.030,0.032,0.035,0.037,0.035,0.036,0.035,0.040,0.046,0.053,0.058,0.064,0.058,0.046,0.039,0.036,0.034,0.032,0.031,0.034,
0.033]
humid_x = np.round(5.0 + 0.05 * np.arange(len(humid_so2)), 2)

region_labels = ["a", "b", "c", "d", "e", "f", "g"]
region_lo = [10.25, 11.08, 17.83, 18.94, 21.11, 22.41, 24.07]
region_hi = [10.97, 11.79, 18.56, 19.67, 21.85, 23.14, 24.80]
arrow_x = [11.50, 21.29, 23.68]
arrow_top = [1.35e-2, 1.0e-2, 1.0e-2]
arrow_tip = [6.6e-3, 4.3e-3, 4.5e-3]
ytick_vals = [1e-4, 1e-3, 1e-2, 1e-1, 1.0]
ytick_labels = ["1E-4", "1E-3", "1E-2", "1E-1", "1E+0"]
xtick_vals = list(range(5, 26))

# ---------------- figure ----------------
W, H = 1289, 434
fig = plt.figure(figsize=(W / 100, H / 100), dpi=100)
ax = fig.add_axes([92 / W, 1 - 403 / H, (1276 - 92) / W, (403 - 70) / H])
ax.set_yscale('log')
ax.set_xlim(5, 25)
ax.set_ylim(1e-4, 1.0)

# shaded regions
for lab, lo, hi in zip(region_labels, region_lo, region_hi):
    r = Rectangle((lo, 7.4e-5), hi - lo, 1.25 - 7.4e-5, transform=ax.transData,
                  facecolor='#fdeeee', edgecolor='#e57c7c', lw=1.3, clip_on=False, zorder=0.5)
    ax.add_patch(r)
    ax.text((lo + hi) / 2, 0.5, lab, ha='center', va='center', fontsize=19, zorder=8)

def draw(pts, color, lw, ls='-', dashes=None, z=2):
    xs = [p[0] for p in pts]
    ys = [p[1] for p in pts]
    sns.lineplot(x=xs, y=ys, ax=ax, color=color, linewidth=lw, sort=False,
                 estimator=None, linestyle=ls, zorder=z)
    ln = ax.lines[-1]
    if dashes is not None:
        ln.set_dashes(dashes)
    return ln

c_black = '#000000'
c_vac = '#2c93d4'
c_amo = '#23378f'
c_b05 = '#e07b9a'
c_b10 = '#de1650'
c_green = '#4f7d2b'

draw(pristine, c_black, 1.7, z=2)
draw(bulk_005, c_b05, 1.5, ls='--', dashes=(5, 3), z=3)
draw(vacancy, c_vac, 1.5, ls='--', dashes=(2.5, 1.2), z=4)
draw(amorphous, c_amo, 1.3, ls=':', z=4.5)
draw(bulk_01, c_b10, 1.7, z=5)
sns.lineplot(x=humid_x, y=humid_so2, ax=ax, color=c_green, linewidth=1.3, sort=False,
             estimator=None, zorder=6)

# arrows
for xa, yt, yh in zip(arrow_x, arrow_top, arrow_tip):
    ax.annotate('', xy=(xa, yh), xytext=(xa, yt),
                arrowprops=dict(arrowstyle='-|>', color='black', lw=2.2, mutation_scale=14),
                zorder=9)

# axes styling
for s in ax.spines.values():
    s.set_linewidth(2.0)
    s.set_color('black')
ax.yaxis.set_major_locator(FixedLocator(ytick_vals))
ax.yaxis.set_major_formatter(FixedFormatter(ytick_labels))
ax.yaxis.set_minor_locator(LogLocator(base=10, subs=np.arange(2, 10)))
ax.yaxis.set_minor_formatter(NullFormatter())
ax.xaxis.set_major_locator(FixedLocator(xtick_vals))
ax.xaxis.set_minor_locator(MultipleLocator(0.2))
ax.tick_params(axis='both', which='major', direction='in', length=6, width=1.6,
               labelsize=11.5, top=False, right=False)
ax.tick_params(axis='both', which='minor', direction='in', length=3.5, width=1.2,
               top=False, right=False)
ax.tick_params(axis='y', which='major', pad=9)
ax.tick_params(axis='x', which='major', pad=6)
ax.set_xlabel('')
ax.set_ylabel('')
ax.grid(False)

fig.text(17 / W, 1 - 192 / H, 'INTENSITY', rotation=90, ha='center', va='center', fontsize=11.5)

# watermark
fig.text(662 / W, 1 - 341 / H, 'ACS Paragon Plus Environment', ha='center', va='center',
         fontsize=16, color='#7a7a7a', family=['Open Sans', 'DejaVu Sans'], zorder=20)

# legend (three columns)
h_black = Line2D([], [], color=c_black, lw=1.7)
h_b05 = Line2D([], [], color=c_b05, lw=1.5, linestyle='--', dashes=(5, 3))
h_vac = Line2D([], [], color=c_vac, lw=1.5, linestyle='--', dashes=(2.5, 1.2))
h_b10 = Line2D([], [], color=c_b10, lw=1.7)
h_amo = Line2D([], [], color=c_amo, lw=1.3, linestyle=':')
h_green = Line2D([], [], color=c_green, lw=1.2)
leg_kw = dict(loc='upper left', frameon=False, fontsize=11, handlelength=1.9,
              handletextpad=0.2, labelspacing=0.77, borderpad=0, borderaxespad=0)
fig.legend([h_black, h_b05], ['Pristine ZIF-8', 'Bulk, Gaussian blur (sigma = 0.05)'],
           bbox_to_anchor=(155 / W, 1 - 10 / H), **leg_kw)
fig.legend([h_vac, h_b10], ['Cluster, Vacancy', 'Bulk, Gaussian blur (sigma = 0.1)'],
           bbox_to_anchor=(428 / W, 1 - 10 / H), **leg_kw)
fig.legend([h_amo, h_green], ['Cluster, Amorphous', '  Humid SO$_2$, 10 days'],
           bbox_to_anchor=(840 / W, 1 - 10 / H), **leg_kw)

fig.savefig('out.png', dpi=100)
